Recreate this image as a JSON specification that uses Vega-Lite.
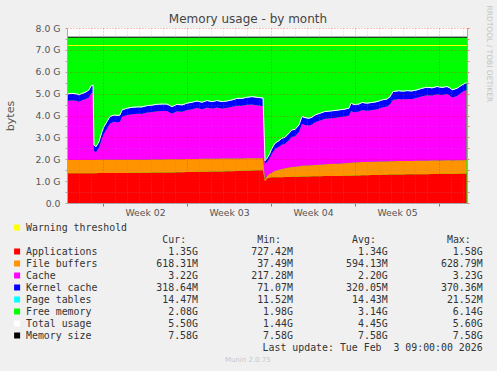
{
  "$schema": "https://vega.github.io/schema/vega-lite/v6.json",
  "width": 400,
  "height": 175,
  "autosize": {"type": "none"},
  "padding": {"left": 67, "top": 28, "right": 30, "bottom": 168},
  "background": "#F0F0F0",
  "config": {"view": {"fill": "#FFFFFF", "stroke": null}},
  "title": {"text": "Memory usage - by month", "anchor": "middle", "frame": "group", "dx": -19, "offset": -30, "baseline": "alphabetic", "font": "DejaVu Sans", "fontSize": 12, "fontWeight": "normal", "color": "#444444"},
  "datasets": {
    "mem": [
      {"t":"2026-01-02T00:00Z","apps":1.36,"buffers":0.61,"cache":2.70,"kernel":0.30,"pagetables":0.014},
      {"t":"2026-01-02T10:00Z","apps":1.36,"buffers":0.61,"cache":2.73,"kernel":0.30,"pagetables":0.014},
      {"t":"2026-01-02T20:00Z","apps":1.36,"buffers":0.61,"cache":2.70,"kernel":0.30,"pagetables":0.014},
      {"t":"2026-01-03T00:00Z","apps":1.36,"buffers":0.61,"cache":2.66,"kernel":0.30,"pagetables":0.014},
      {"t":"2026-01-03T06:00Z","apps":1.36,"buffers":0.61,"cache":2.73,"kernel":0.30,"pagetables":0.014},
      {"t":"2026-01-03T12:00Z","apps":1.36,"buffers":0.61,"cache":2.77,"kernel":0.30,"pagetables":0.014},
      {"t":"2026-01-03T20:00Z","apps":1.36,"buffers":0.61,"cache":2.87,"kernel":0.32,"pagetables":0.014},
      {"t":"2026-01-04T00:00Z","apps":1.36,"buffers":0.61,"cache":3.04,"kernel":0.33,"pagetables":0.014},
      {"t":"2026-01-04T04:00Z","apps":1.36,"buffers":0.61,"cache":3.08,"kernel":0.33,"pagetables":0.014},
      {"t":"2026-01-04T06:00Z","apps":1.36,"buffers":0.61,"cache":0.42,"kernel":0.25,"pagetables":0.014},
      {"t":"2026-01-04T10:00Z","apps":1.36,"buffers":0.61,"cache":0.36,"kernel":0.23,"pagetables":0.014},
      {"t":"2026-01-04T16:00Z","apps":1.37,"buffers":0.61,"cache":0.56,"kernel":0.25,"pagetables":0.014},
      {"t":"2026-01-04T22:00Z","apps":1.37,"buffers":0.61,"cache":0.99,"kernel":0.28,"pagetables":0.014},
      {"t":"2026-01-05T02:00Z","apps":1.37,"buffers":0.61,"cache":1.20,"kernel":0.30,"pagetables":0.014},
      {"t":"2026-01-05T08:00Z","apps":1.37,"buffers":0.61,"cache":1.43,"kernel":0.30,"pagetables":0.014},
      {"t":"2026-01-05T14:00Z","apps":1.37,"buffers":0.61,"cache":1.66,"kernel":0.30,"pagetables":0.014},
      {"t":"2026-01-05T22:00Z","apps":1.37,"buffers":0.61,"cache":1.73,"kernel":0.30,"pagetables":0.014},
      {"t":"2026-01-06T04:00Z","apps":1.37,"buffers":0.61,"cache":1.71,"kernel":0.30,"pagetables":0.014},
      {"t":"2026-01-06T10:00Z","apps":1.37,"buffers":0.61,"cache":1.73,"kernel":0.30,"pagetables":0.014},
      {"t":"2026-01-06T14:00Z","apps":1.37,"buffers":0.61,"cache":1.96,"kernel":0.30,"pagetables":0.014},
      {"t":"2026-01-07T00:00Z","apps":1.37,"buffers":0.61,"cache":2.04,"kernel":0.30,"pagetables":0.014},
      {"t":"2026-01-07T10:00Z","apps":1.38,"buffers":0.60,"cache":2.08,"kernel":0.30,"pagetables":0.014},
      {"t":"2026-01-07T20:00Z","apps":1.38,"buffers":0.60,"cache":2.10,"kernel":0.30,"pagetables":0.014},
      {"t":"2026-01-08T06:00Z","apps":1.38,"buffers":0.60,"cache":2.10,"kernel":0.30,"pagetables":0.014},
      {"t":"2026-01-08T16:00Z","apps":1.38,"buffers":0.60,"cache":2.16,"kernel":0.30,"pagetables":0.014},
      {"t":"2026-01-09T02:00Z","apps":1.39,"buffers":0.60,"cache":2.17,"kernel":0.30,"pagetables":0.014},
      {"t":"2026-01-09T12:00Z","apps":1.39,"buffers":0.60,"cache":2.21,"kernel":0.30,"pagetables":0.014},
      {"t":"2026-01-09T22:00Z","apps":1.39,"buffers":0.60,"cache":2.22,"kernel":0.30,"pagetables":0.014},
      {"t":"2026-01-10T08:00Z","apps":1.40,"buffers":0.60,"cache":2.21,"kernel":0.30,"pagetables":0.014},
      {"t":"2026-01-10T18:00Z","apps":1.40,"buffers":0.60,"cache":2.09,"kernel":0.30,"pagetables":0.014},
      {"t":"2026-01-11T04:00Z","apps":1.41,"buffers":0.59,"cache":2.20,"kernel":0.30,"pagetables":0.014},
      {"t":"2026-01-11T14:00Z","apps":1.41,"buffers":0.59,"cache":2.17,"kernel":0.30,"pagetables":0.014},
      {"t":"2026-01-12T00:00Z","apps":1.42,"buffers":0.59,"cache":2.24,"kernel":0.30,"pagetables":0.014},
      {"t":"2026-01-12T10:00Z","apps":1.42,"buffers":0.59,"cache":2.28,"kernel":0.30,"pagetables":0.014},
      {"t":"2026-01-12T20:00Z","apps":1.43,"buffers":0.58,"cache":2.34,"kernel":0.30,"pagetables":0.014},
      {"t":"2026-01-13T06:00Z","apps":1.43,"buffers":0.59,"cache":2.27,"kernel":0.30,"pagetables":0.014},
      {"t":"2026-01-13T16:00Z","apps":1.43,"buffers":0.59,"cache":2.35,"kernel":0.30,"pagetables":0.014},
      {"t":"2026-01-14T02:00Z","apps":1.44,"buffers":0.58,"cache":2.30,"kernel":0.30,"pagetables":0.014},
      {"t":"2026-01-14T12:00Z","apps":1.44,"buffers":0.58,"cache":2.35,"kernel":0.30,"pagetables":0.014},
      {"t":"2026-01-14T22:00Z","apps":1.44,"buffers":0.59,"cache":2.29,"kernel":0.30,"pagetables":0.014},
      {"t":"2026-01-15T08:00Z","apps":1.45,"buffers":0.58,"cache":2.32,"kernel":0.30,"pagetables":0.014},
      {"t":"2026-01-15T18:00Z","apps":1.45,"buffers":0.58,"cache":2.37,"kernel":0.30,"pagetables":0.014},
      {"t":"2026-01-16T04:00Z","apps":1.46,"buffers":0.58,"cache":2.41,"kernel":0.32,"pagetables":0.014},
      {"t":"2026-01-16T14:00Z","apps":1.47,"buffers":0.57,"cache":2.41,"kernel":0.32,"pagetables":0.014},
      {"t":"2026-01-17T00:00Z","apps":1.48,"buffers":0.57,"cache":2.44,"kernel":0.33,"pagetables":0.014},
      {"t":"2026-01-17T10:00Z","apps":1.49,"buffers":0.56,"cache":2.45,"kernel":0.35,"pagetables":0.014},
      {"t":"2026-01-17T20:00Z","apps":1.50,"buffers":0.55,"cache":2.42,"kernel":0.35,"pagetables":0.014},
      {"t":"2026-01-18T06:00Z","apps":1.50,"buffers":0.55,"cache":2.39,"kernel":0.35,"pagetables":0.014},
      {"t":"2026-01-18T08:00Z","apps":1.50,"buffers":0.55,"cache":2.39,"kernel":0.35,"pagetables":0.014},
      {"t":"2026-01-18T12:00Z","apps":1.00,"buffers":0.06,"cache":0.72,"kernel":0.14,"pagetables":0.012},
      {"t":"2026-01-18T16:00Z","apps":1.12,"buffers":0.10,"cache":0.66,"kernel":0.15,"pagetables":0.012},
      {"t":"2026-01-18T20:00Z","apps":1.15,"buffers":0.17,"cache":0.68,"kernel":0.18,"pagetables":0.013},
      {"t":"2026-01-19T02:00Z","apps":1.18,"buffers":0.22,"cache":0.87,"kernel":0.22,"pagetables":0.013},
      {"t":"2026-01-19T08:00Z","apps":1.18,"buffers":0.28,"cache":1.01,"kernel":0.25,"pagetables":0.014},
      {"t":"2026-01-19T16:00Z","apps":1.18,"buffers":0.34,"cache":1.05,"kernel":0.27,"pagetables":0.014},
      {"t":"2026-01-19T22:00Z","apps":1.18,"buffers":0.38,"cache":1.11,"kernel":0.28,"pagetables":0.014},
      {"t":"2026-01-20T04:00Z","apps":1.19,"buffers":0.40,"cache":1.12,"kernel":0.28,"pagetables":0.014},
      {"t":"2026-01-20T12:00Z","apps":1.19,"buffers":0.43,"cache":1.26,"kernel":0.30,"pagetables":0.014},
      {"t":"2026-01-20T18:00Z","apps":1.20,"buffers":0.45,"cache":1.38,"kernel":0.30,"pagetables":0.014},
      {"t":"2026-01-21T00:00Z","apps":1.20,"buffers":0.46,"cache":1.39,"kernel":0.30,"pagetables":0.014},
      {"t":"2026-01-21T08:00Z","apps":1.20,"buffers":0.48,"cache":1.58,"kernel":0.30,"pagetables":0.014},
      {"t":"2026-01-21T14:00Z","apps":1.21,"buffers":0.49,"cache":1.92,"kernel":0.32,"pagetables":0.014},
      {"t":"2026-01-21T20:00Z","apps":1.21,"buffers":0.50,"cache":1.86,"kernel":0.32,"pagetables":0.014},
      {"t":"2026-01-22T04:00Z","apps":1.21,"buffers":0.51,"cache":1.82,"kernel":0.32,"pagetables":0.014},
      {"t":"2026-01-22T10:00Z","apps":1.22,"buffers":0.51,"cache":1.86,"kernel":0.32,"pagetables":0.014},
      {"t":"2026-01-22T16:00Z","apps":1.22,"buffers":0.52,"cache":1.95,"kernel":0.32,"pagetables":0.014},
      {"t":"2026-01-23T02:00Z","apps":1.22,"buffers":0.53,"cache":2.02,"kernel":0.32,"pagetables":0.014},
      {"t":"2026-01-23T12:00Z","apps":1.23,"buffers":0.54,"cache":2.08,"kernel":0.32,"pagetables":0.014},
      {"t":"2026-01-23T22:00Z","apps":1.23,"buffers":0.55,"cache":2.09,"kernel":0.32,"pagetables":0.014},
      {"t":"2026-01-24T06:00Z","apps":1.24,"buffers":0.55,"cache":2.10,"kernel":0.32,"pagetables":0.014},
      {"t":"2026-01-24T16:00Z","apps":1.24,"buffers":0.56,"cache":2.12,"kernel":0.32,"pagetables":0.014},
      {"t":"2026-01-25T02:00Z","apps":1.25,"buffers":0.57,"cache":2.13,"kernel":0.32,"pagetables":0.014},
      {"t":"2026-01-25T12:00Z","apps":1.25,"buffers":0.58,"cache":2.17,"kernel":0.32,"pagetables":0.014},
      {"t":"2026-01-25T16:00Z","apps":1.25,"buffers":0.59,"cache":2.37,"kernel":0.34,"pagetables":0.014},
      {"t":"2026-01-25T22:00Z","apps":1.26,"buffers":0.59,"cache":2.30,"kernel":0.34,"pagetables":0.014},
      {"t":"2026-01-26T08:00Z","apps":1.26,"buffers":0.60,"cache":2.32,"kernel":0.33,"pagetables":0.014},
      {"t":"2026-01-26T14:00Z","apps":1.27,"buffers":0.60,"cache":2.38,"kernel":0.33,"pagetables":0.014},
      {"t":"2026-01-27T00:00Z","apps":1.27,"buffers":0.61,"cache":2.34,"kernel":0.33,"pagetables":0.014},
      {"t":"2026-01-27T10:00Z","apps":1.28,"buffers":0.61,"cache":2.36,"kernel":0.33,"pagetables":0.014},
      {"t":"2026-01-27T20:00Z","apps":1.28,"buffers":0.61,"cache":2.40,"kernel":0.33,"pagetables":0.014},
      {"t":"2026-01-28T06:00Z","apps":1.29,"buffers":0.61,"cache":2.47,"kernel":0.33,"pagetables":0.014},
      {"t":"2026-01-28T16:00Z","apps":1.29,"buffers":0.61,"cache":2.51,"kernel":0.33,"pagetables":0.014},
      {"t":"2026-01-28T22:00Z","apps":1.30,"buffers":0.61,"cache":2.60,"kernel":0.34,"pagetables":0.014},
      {"t":"2026-01-29T04:00Z","apps":1.30,"buffers":0.61,"cache":2.81,"kernel":0.36,"pagetables":0.014},
      {"t":"2026-01-29T16:00Z","apps":1.30,"buffers":0.62,"cache":2.84,"kernel":0.36,"pagetables":0.014},
      {"t":"2026-01-29T22:00Z","apps":1.30,"buffers":0.62,"cache":2.82,"kernel":0.36,"pagetables":0.014},
      {"t":"2026-01-30T08:00Z","apps":1.31,"buffers":0.61,"cache":2.84,"kernel":0.36,"pagetables":0.014},
      {"t":"2026-01-30T18:00Z","apps":1.31,"buffers":0.61,"cache":2.83,"kernel":0.36,"pagetables":0.014},
      {"t":"2026-01-31T04:00Z","apps":1.31,"buffers":0.62,"cache":2.88,"kernel":0.35,"pagetables":0.014},
      {"t":"2026-01-31T14:00Z","apps":1.32,"buffers":0.61,"cache":2.95,"kernel":0.35,"pagetables":0.014},
      {"t":"2026-02-01T00:00Z","apps":1.32,"buffers":0.61,"cache":3.00,"kernel":0.35,"pagetables":0.014},
      {"t":"2026-02-01T10:00Z","apps":1.33,"buffers":0.61,"cache":2.97,"kernel":0.34,"pagetables":0.014},
      {"t":"2026-02-01T20:00Z","apps":1.33,"buffers":0.61,"cache":3.03,"kernel":0.34,"pagetables":0.014},
      {"t":"2026-02-02T06:00Z","apps":1.34,"buffers":0.60,"cache":3.00,"kernel":0.33,"pagetables":0.014},
      {"t":"2026-02-02T16:00Z","apps":1.34,"buffers":0.61,"cache":3.03,"kernel":0.33,"pagetables":0.014},
      {"t":"2026-02-02T22:00Z","apps":1.34,"buffers":0.61,"cache":2.97,"kernel":0.33,"pagetables":0.014},
      {"t":"2026-02-03T02:00Z","apps":1.33,"buffers":0.61,"cache":2.88,"kernel":0.34,"pagetables":0.014},
      {"t":"2026-02-03T12:00Z","apps":1.34,"buffers":0.61,"cache":2.94,"kernel":0.34,"pagetables":0.014},
      {"t":"2026-02-03T22:00Z","apps":1.35,"buffers":0.61,"cache":3.10,"kernel":0.32,"pagetables":0.014},
      {"t":"2026-02-04T04:00Z","apps":1.35,"buffers":0.61,"cache":3.18,"kernel":0.32,"pagetables":0.014},
      {"t":"2026-02-04T07:00Z","apps":1.35,"buffers":0.62,"cache":3.20,"kernel":0.32,"pagetables":0.014}
    ],
    "limits": [
      {"name": "Warning threshold", "value": 7.2},
      {"name": "Memory size", "value": 7.58}
    ],
    "legend": [
      {"name": "Warning threshold"},
      {"name": "Applications", "cur": "1.35G", "min": "727.42M", "avg": "1.34G", "max": "1.58G"},
      {"name": "File buffers", "cur": "618.31M", "min": "37.49M", "avg": "594.13M", "max": "628.79M"},
      {"name": "Cache", "cur": "3.22G", "min": "217.28M", "avg": "2.20G", "max": "3.23G"},
      {"name": "Kernel cache", "cur": "318.64M", "min": "71.07M", "avg": "320.05M", "max": "370.36M"},
      {"name": "Page tables", "cur": "14.47M", "min": "11.52M", "avg": "14.43M", "max": "21.52M"},
      {"name": "Free memory", "cur": "2.08G", "min": "1.98G", "avg": "3.14G", "max": "6.14G"},
      {"name": "Total usage", "cur": "5.50G", "min": "1.44G", "avg": "4.45G", "max": "5.60G"},
      {"name": "Memory size", "cur": "7.58G", "min": "7.58G", "avg": "7.58G", "max": "7.58G"}
    ],
    "headers": [
      {"cur": "Cur:", "min": "Min:", "avg": "Avg:", "max": "Max:"}
    ],
    "footer": [
      {"update": "Last update: Tue Feb \u00a03 09:00:00 2026", "credit": "Munin 2.0.75"}
    ]
  },
  "layer": [
    {
      "layer": [
        {
          "data": {"name": "limits"},
          "transform": [{"filter": "datum.name === 'Memory size'"}],
          "mark": {"type": "rect", "color": "#00FF00"},
          "encoding": {
            "y": {"field": "value", "type": "quantitative", "scale": {"domain": [0, 8], "nice": false, "zero": true},
              "axis": {
                "orient": "left", "values": [0,0.5,1,1.5,2,2.5,3,3.5,4,4.5,5,5.5,6,6.5,7,7.5,8], "tickCount": 40,
                "title": "bytes",
                "labelExpr": "datum.value % 1 !== 0 ? '' : (datum.value === 0 ? '0.0\u00a0\u00a0' : format(datum.value, '.1f') + ' G')",
                "labelFont": "DejaVu Sans", "labelFontSize": 9.3, "labelColor": "#555555", "labelPadding": 5, "labelOverlap": false,
                "tickSize": 2, "tickColor": "#AAAAAA", "domainColor": "#A8A8A8",
                "grid": true, "gridDash": [1, 2],
                "gridColor": {"condition": {"test": "datum.value % 1 === 0", "value": "rgba(255,0,0,0.45)"}, "value": "rgba(140,140,140,0.4)"},
                "titleFont": "DejaVu Sans", "titleFontSize": 11, "titleFontWeight": "normal", "titleColor": "#555555",
                "titleAngle": -90, "titleX": -57, "titleY": 87.5, "titleAlign": "center", "titleBaseline": "middle",
                "zindex": 1
              }
            },
            "y2": {"datum": 0}
          }
        },
        {
          "data": {"name": "mem"},
          "transform": [
            {"fold": ["apps", "buffers", "cache", "kernel", "pagetables"], "as": ["series", "value"]},
            {"stack": "value", "groupby": ["t"], "sort": [{"field": "series", "order": "ascending"}], "as": ["v0", "v1"]}
          ],
          "mark": {"type": "area", "interpolate": "linear"},
          "encoding": {
            "x": {"field": "t", "type": "temporal",
              "scale": {"type": "utc", "domain": [{"year": 2026, "month": 1, "date": 2, "hours": 0, "utc": true}, {"year": 2026, "month": 2, "date": 4, "hours": 8, "utc": true}]},
              "axis": {
                "orient": "bottom", "title": null,
                "tickCount": {"interval": "day", "step": 1},
                "grid": true, "gridDash": [1, 2],
                "gridColor": {"condition": {"test": "utcday(datum.value) === 1", "value": "rgba(255,0,0,0.45)"}, "value": "rgba(140,140,140,0.4)"},
                "ticks": true, "tickSize": 3,
                "tickColor": {"condition": {"test": "utcday(datum.value) === 1", "value": "#FF4040"}, "value": "transparent"},
                "labelExpr": "utcday(datum.value) === 4 ? 'Week ' + utcFormat(datum.value, '%V') : ''",
                "labelOffset": 6, "labelOverlap": false, "labelFlush": false, "labelBound": false, "labelPadding": 2,
                "labelFont": "DejaVu Sans", "labelFontSize": 9.3, "labelColor": "#555555",
                "domainColor": "#A8A8A8", "zindex": 1
              }
            },
            "y": {"field": "v1", "type": "quantitative"},
            "y2": {"field": "v0"},
            "color": {"field": "series", "type": "nominal",
              "scale": {"domain": ["apps", "buffers", "cache", "kernel", "pagetables"], "range": ["#FF0000", "#FF9400", "#FF00FF", "#0000FF", "#00FFFF"]},
              "legend": null}
          }
        },
        {
          "data": {"name": "mem"},
          "transform": [
            {"fold": ["apps", "buffers", "cache", "kernel", "pagetables"], "as": ["series", "value"]},
            {"aggregate": [{"op": "sum", "field": "value", "as": "total"}], "groupby": ["t"]}
          ],
          "mark": {"type": "line", "color": "#FFFFFF", "strokeWidth": 1, "interpolate": "linear"},
          "encoding": {
            "x": {"field": "t", "type": "temporal"},
            "y": {"field": "total", "type": "quantitative"}
          }
        },
        {
          "data": {"name": "limits"},
          "transform": [{"filter": "datum.name === 'Warning threshold'"}],
          "mark": {"type": "rule", "color": "#FFFF00", "strokeWidth": 1},
          "encoding": {"y": {"field": "value", "type": "quantitative"}}
        }
      ]
    },
    {
      "data": {"name": "limits"},
      "transform": [{"filter": "datum.name === 'Memory size'"}],
      "mark": {"type": "rule", "color": "#000000", "strokeWidth": 1},
      "encoding": {
        "y": {"field": "value", "type": "quantitative", "scale": {"domain": [0, 8], "nice": false, "zero": true},
          "axis": {
            "orient": "right", "values": [0,0.5,1,1.5,2,2.5,3,3.5,4,4.5,5,5.5,6,6.5,7,7.5,8], "tickCount": 40,
            "labels": false, "grid": false, "ticks": true, "tickSize": 2, "tickColor": "rgba(255,0,0,0.5)",
            "domainColor": "#A8A8A8",
            "title": "RRDTOOL / TOBI OETIKER", "titleAngle": 90, "titleAlign": "left", "titleBaseline": "middle",
            "titleX": 21, "titleY": -23, "titleFont": "DejaVu Sans", "titleFontSize": 7.5, "titleFontWeight": "normal", "titleColor": "#C4C4C4",
            "zindex": 1
          }
        }
      }
    },
    {
      "layer": [
        {
          "data": {"name": "legend"},
          "mark": {"type": "point", "shape": "square", "filled": true, "size": 36, "opacity": 1, "strokeWidth": 0},
          "encoding": {
            "x": {"datum": -1.5, "type": "quantitative", "scale": {"type": "linear", "domain": [0, 77], "range": [-41, 415.6], "nice": false, "zero": false}, "axis": null},
            "y": {"field": "name", "type": "nominal",
              "scale": {"type": "point", "padding": 0, "range": [199.5, 331.5],
                "domain": ["Warning threshold", "header", "Applications", "File buffers", "Cache", "Kernel cache", "Page tables", "Free memory", "Total usage", "Memory size", "update", "munin"]},
              "axis": null},
            "color": {"field": "name", "type": "nominal",
              "scale": {"domain": ["Warning threshold", "Applications", "File buffers", "Cache", "Kernel cache", "Page tables", "Free memory", "Total usage", "Memory size"],
                "range": ["#FFFF00", "#FF0000", "#FF9400", "#FF00FF", "#0000FF", "#00FFFF", "#00FF00", "#FFFFFF", "#000000"]},
              "legend": null}
          }
        },
        {
          "data": {"name": "legend"},
          "mark": {"type": "text", "align": "left", "baseline": "middle", "font": "DejaVu Sans Mono", "fontSize": 9.9, "color": "#333333"},
          "encoding": {
            "x": {"datum": 0, "type": "quantitative"},
            "y": {"field": "name", "type": "nominal"},
            "text": {"field": "name"}
          }
        },
        {
          "data": {"name": "legend"},
          "transform": [{"filter": "isValid(datum.cur)"}],
          "mark": {"type": "text", "align": "right", "baseline": "middle", "font": "DejaVu Sans Mono", "fontSize": 9.9, "color": "#333333"},
          "encoding": {"x": {"datum": 29, "type": "quantitative"}, "y": {"field": "name", "type": "nominal"}, "text": {"field": "cur"}}
        },
        {
          "data": {"name": "legend"},
          "transform": [{"filter": "isValid(datum.min)"}],
          "mark": {"type": "text", "align": "right", "baseline": "middle", "font": "DejaVu Sans Mono", "fontSize": 9.9, "color": "#333333"},
          "encoding": {"x": {"datum": 45, "type": "quantitative"}, "y": {"field": "name", "type": "nominal"}, "text": {"field": "min"}}
        },
        {
          "data": {"name": "legend"},
          "transform": [{"filter": "isValid(datum.avg)"}],
          "mark": {"type": "text", "align": "right", "baseline": "middle", "font": "DejaVu Sans Mono", "fontSize": 9.9, "color": "#333333"},
          "encoding": {"x": {"datum": 61, "type": "quantitative"}, "y": {"field": "name", "type": "nominal"}, "text": {"field": "avg"}}
        },
        {
          "data": {"name": "legend"},
          "transform": [{"filter": "isValid(datum.max)"}],
          "mark": {"type": "text", "align": "right", "baseline": "middle", "font": "DejaVu Sans Mono", "fontSize": 9.9, "color": "#333333"},
          "encoding": {"x": {"datum": 77, "type": "quantitative"}, "y": {"field": "name", "type": "nominal"}, "text": {"field": "max"}}
        },
        {
          "data": {"name": "headers"},
          "mark": {"type": "text", "align": "right", "baseline": "middle", "font": "DejaVu Sans Mono", "fontSize": 9.9, "color": "#333333"},
          "encoding": {"x": {"datum": 27, "type": "quantitative"}, "y": {"datum": "header"}, "text": {"field": "cur"}}
        },
        {
          "data": {"name": "headers"},
          "mark": {"type": "text", "align": "right", "baseline": "middle", "font": "DejaVu Sans Mono", "fontSize": 9.9, "color": "#333333"},
          "encoding": {"x": {"datum": 43, "type": "quantitative"}, "y": {"datum": "header"}, "text": {"field": "min"}}
        },
        {
          "data": {"name": "headers"},
          "mark": {"type": "text", "align": "right", "baseline": "middle", "font": "DejaVu Sans Mono", "fontSize": 9.9, "color": "#333333"},
          "encoding": {"x": {"datum": 59, "type": "quantitative"}, "y": {"datum": "header"}, "text": {"field": "avg"}}
        },
        {
          "data": {"name": "headers"},
          "mark": {"type": "text", "align": "right", "baseline": "middle", "font": "DejaVu Sans Mono", "fontSize": 9.9, "color": "#333333"},
          "encoding": {"x": {"datum": 75, "type": "quantitative"}, "y": {"datum": "header"}, "text": {"field": "max"}}
        },
        {
          "data": {"name": "footer"},
          "mark": {"type": "text", "align": "right", "baseline": "middle", "font": "DejaVu Sans Mono", "fontSize": 9.9, "color": "#333333"},
          "encoding": {"x": {"datum": 77, "type": "quantitative"}, "y": {"datum": "update"}, "text": {"field": "update"}}
        },
        {
          "data": {"name": "footer"},
          "mark": {"type": "text", "align": "center", "baseline": "middle", "font": "DejaVu Sans", "fontSize": 7, "color": "#C8C8C8"},
          "encoding": {"x": {"datum": 37.4, "type": "quantitative"}, "y": {"datum": "munin"}, "text": {"field": "credit"}}
        }
      ]
    }
  ],
  "resolve": {
    "scale": {"x": "independent", "y": "independent", "color": "independent"},
    "axis": {"x": "independent", "y": "independent"}
  }
}
